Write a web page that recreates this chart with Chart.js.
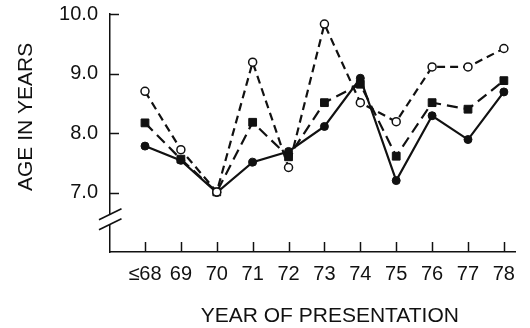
<!DOCTYPE html>
<html>
<head>
<meta charset="utf-8">
<script src="https://cdn.jsdelivr.net/npm/chart.js@4/dist/chart.umd.min.js"></script>
<style>
  html, body { margin: 0; padding: 0; background: #fff; }
  canvas { display: block; }
</style>
</head>
<body>
<canvas id="chart" width="530" height="328"></canvas>
<script>
// Year of presentation (categories)
const years = ['≤68', '69', '70', '71', '72', '73', '74', '75', '76', '77', '78'];

// Mean age in years for the three groups
const ageOpen   = [8.70, 7.72, 7.01, 9.19, 7.42, 9.83, 8.51, 8.19, 9.11, 9.11, 9.42];
const ageSquare = [8.17, 7.56, 7.01, 8.18, 7.60, 8.51, 8.82, 7.61, 8.51, 8.40, 8.88];
const ageFilled = [7.78, 7.54, 7.00, 7.51, 7.69, 8.11, 8.92, 7.20, 8.29, 7.89, 8.69];

// Value axis tick labels
const yTicks = [7, 8, 9, 10];

const xTitle = 'YEAR OF PRESENTATION';
const yTitle = 'AGE IN YEARS';

const INK = '#111';
const FONT = '"Liberation Sans", Arial, Helvetica, sans-serif';

const toPoints = arr => arr.map((v, i) => ({ x: i, y: v }));

// Inward tick marks, broken value axis and axis titles
const axisDecor = {
  id: 'axisDecor',
  afterDraw(chart) {
    const { ctx, chartArea: a, scales: { x, y } } = chart;
    ctx.save();
    ctx.strokeStyle = INK;
    ctx.lineWidth = 1.5;

    // value-axis ticks pointing into the plot
    yTicks.forEach(v => {
      const py = Math.round(y.getPixelForValue(v)) + 0.5;
      ctx.beginPath();
      ctx.moveTo(a.left, py);
      ctx.lineTo(a.left + 9, py);
      ctx.stroke();
    });
    // category ticks pointing up from the base line
    years.forEach((_, i) => {
      const px = Math.round(x.getPixelForValue(i)) + 0.5;
      ctx.beginPath();
      ctx.moveTo(px, a.bottom);
      ctx.lineTo(px, a.bottom - 10);
      ctx.stroke();
    });

    // axis break between 6 and 7
    const bx = a.left;
    const by = y.getPixelForValue(6.55);
    ctx.fillStyle = '#fff';
    ctx.fillRect(bx - 3, by - 5, 6, 10);
    ctx.lineWidth = 1.6;
    [-5, 5].forEach(off => {
      ctx.beginPath();
      ctx.moveTo(bx - 11, by + off + 5.5);
      ctx.lineTo(bx + 11.5, by + off - 5.5);
      ctx.stroke();
    });

    // axis titles
    ctx.fillStyle = INK;
    ctx.font = '21px ' + FONT;
    ctx.textAlign = 'center';
    ctx.textBaseline = 'middle';
    ctx.fillText(xTitle, x.getPixelForValue(5.15), a.bottom + 64);
    ctx.translate(26, y.getPixelForValue(8.27));
    ctx.rotate(-Math.PI / 2);
    ctx.fillText(yTitle, 0, 0);
    ctx.restore();
  }
};

new Chart(document.getElementById('chart'), {
  type: 'line',
  data: {
    datasets: [
      {
        label: 'filled',
        data: toPoints(ageFilled),
        borderColor: INK,
        backgroundColor: INK,
        borderWidth: 2.2,
        pointStyle: 'circle',
        pointRadius: 4,
        pointBorderWidth: 1,
        order: 3
      },
      {
        label: 'square',
        data: toPoints(ageSquare),
        borderColor: INK,
        backgroundColor: INK,
        borderWidth: 2.2,
        borderDash: [11, 6],
        pointStyle: 'rect',
        pointRadius: 5.5,
        pointBorderWidth: 1,
        order: 2
      },
      {
        label: 'open',
        data: toPoints(ageOpen),
        borderColor: INK,
        backgroundColor: '#fff',
        pointBackgroundColor: '#fff',
        borderWidth: 2.2,
        borderDash: [8, 5],
        pointStyle: 'circle',
        pointRadius: 4,
        pointBorderWidth: 1.5,
        order: 1
      }
    ]
  },
  options: {
    responsive: false,
    animation: false,
    devicePixelRatio: 1,
    layout: { padding: { left: 0, right: 15, top: 14, bottom: 0 } },
    plugins: { legend: { display: false }, tooltip: { enabled: false } },
    elements: { line: { tension: 0 } },
    scales: {
      x: {
        type: 'linear',
        min: -0.975,
        max: 10.31,
        afterBuildTicks: s => { s.ticks = years.map((_, i) => ({ value: i })); },
        afterFit: s => { s.height = 76; s.paddingLeft = 0; s.paddingRight = 0; },
        ticks: {
          callback: v => years[v],
          color: INK,
          font: { family: FONT, size: 20 },
          padding: 10,
          maxRotation: 0,
          autoSkip: false
        },
        grid: { drawOnChartArea: false, drawTicks: false },
        border: { display: true, color: INK, width: 1.5 }
      },
      y: {
        type: 'linear',
        min: 6,
        max: 10,
        afterBuildTicks: s => { s.ticks = yTicks.map(v => ({ value: v })); },
        afterFit: s => { s.width = 110; s.paddingTop = 0; s.paddingBottom = 0; },
        ticks: {
          callback: v => v.toFixed(1),
          color: INK,
          font: { family: FONT, size: 20 },
          padding: 12
        },
        grid: { drawOnChartArea: false, drawTicks: false },
        border: { display: true, color: INK, width: 1.5 }
      }
    }
  },
  plugins: [axisDecor]
});
</script>
</body>
</html>
